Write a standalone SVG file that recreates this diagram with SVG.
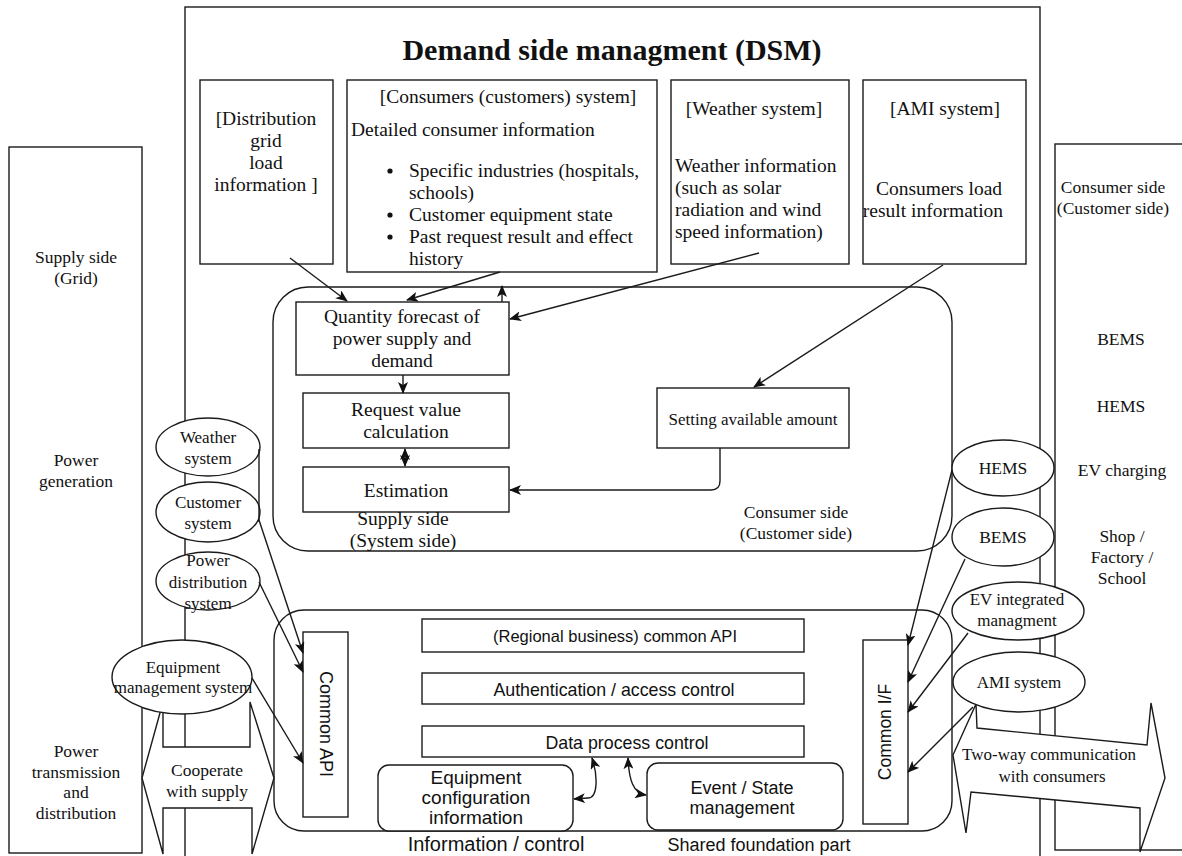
<svg xmlns="http://www.w3.org/2000/svg" width="1182" height="856" viewBox="0 0 1182 856">
<defs>
<style>
.box{fill:#fff;stroke:#1a1a1a;stroke-width:1.4}
.ln{fill:none;stroke:#1a1a1a;stroke-width:1.4}
.s{font-family:"Liberation Serif","Times New Roman",serif;fill:#111}
.a{font-family:"Liberation Sans",Arial,sans-serif;fill:#111}
.m{text-anchor:middle}
.f19{font-size:19.5px}
.f17{font-size:17.5px}
</style>
<marker id="ah" viewBox="0 0 12 10" refX="11" refY="5" markerWidth="12" markerHeight="10" markerUnits="userSpaceOnUse" orient="auto-start-reverse">
<path d="M0,0 L12,5 L0,10 L3,5 z" fill="#111"/>
</marker>
</defs>
<rect width="1182" height="856" fill="#fff"/>

<g id="dsm">
<rect class="box" x="185" y="7" width="855" height="900"/>
<text class="s m" x="612" y="60" font-size="30" font-weight="bold">Demand side managment (DSM)</text>
</g>

<g id="supply-side">
<rect class="box" x="9" y="147" width="133" height="706"/>
<text class="s m f17" x="76" y="263">Supply side</text>
<text class="s m f17" x="76" y="284">(Grid)</text>
<text class="s m f17" x="76" y="466">Power</text>
<text class="s m f17" x="76" y="487">generation</text>
<text class="s m f17" x="76" y="757">Power</text>
<text class="s m f17" x="76" y="778">transmission</text>
<text class="s m f17" x="76" y="798">and</text>
<text class="s m f17" x="76" y="819">distribution</text>
</g>

<g id="consumer-side">
<rect class="box" x="1055" y="144" width="140" height="706"/>
<text class="s m f17" x="1113" y="193">Consumer side</text>
<text class="s m f17" x="1113" y="214">(Customer side)</text>
<text class="s m f17" x="1121" y="345">BEMS</text>
<text class="s m f17" x="1121" y="412">HEMS</text>
<text class="s m f17" x="1122" y="476">EV charging</text>
<text class="s m f17" x="1122" y="542">Shop /</text>
<text class="s m f17" x="1122" y="563">Factory /</text>
<text class="s m f17" x="1122" y="584">School</text>
</g>

<g id="dist-grid">
<rect class="box" x="200" y="80" width="133" height="184"/>
<text class="s m f19" x="266" y="125">[Distribution</text>
<text class="s m f19" x="266" y="147">grid</text>
<text class="s m f19" x="266" y="169">load</text>
<text class="s m f19" x="266" y="191">information ]</text>
</g>

<g id="consumers-system">
<rect class="box" x="347" y="80" width="310" height="192"/>
<text class="s m f19" x="508" y="103">[Consumers (customers) system]</text>
<text class="s f19" x="351" y="136">Detailed consumer information</text>
<circle cx="390" cy="171" r="2.6" fill="#111"/>
<circle cx="390" cy="215" r="2.6" fill="#111"/>
<circle cx="390" cy="237" r="2.6" fill="#111"/>
<text class="s f19" x="409" y="177">Specific industries (hospitals,</text>
<text class="s f19" x="409" y="199">schools)</text>
<text class="s f19" x="409" y="221">Customer equipment state</text>
<text class="s f19" x="409" y="243">Past request result and effect</text>
<text class="s f19" x="409" y="265">history</text>
</g>

<g id="weather-system">
<rect class="box" x="671" y="80" width="178" height="184"/>
<text class="s m f19" x="754" y="115">[Weather system]</text>
<text class="s f19" x="675" y="172">Weather information</text>
<text class="s f19" x="675" y="194">(such as solar</text>
<text class="s f19" x="675" y="216">radiation and wind</text>
<text class="s f19" x="675" y="238">speed information)</text>
</g>

<g id="ami-system">
<rect class="box" x="863" y="80" width="163" height="184"/>
<text class="s m f19" x="945" y="115">[AMI system]</text>
<text class="s m f19" x="939" y="195">Consumers load</text>
<text class="s m f19" x="933" y="217">result information</text>
</g>

<g id="upper-container">
<rect class="box" x="273" y="287" width="679" height="264" rx="35"/>
<text class="s m f19" x="403" y="525">Supply side</text>
<text class="s m f19" x="403" y="547">(System side)</text>
<text class="s m f17" x="796" y="518">Consumer side</text>
<text class="s m f17" x="796" y="539">(Customer side)</text>
</g>

<g id="quantity-forecast">
<rect class="box" x="296" y="302" width="213" height="73"/>
<text class="s m f19" x="402" y="323">Quantity forecast of</text>
<text class="s m f19" x="402" y="345">power supply and</text>
<text class="s m f19" x="402" y="367">demand</text>
</g>

<g id="request-value">
<rect class="box" x="303" y="393" width="206" height="55"/>
<text class="s m f19" x="406" y="416">Request value</text>
<text class="s m f19" x="406" y="438">calculation</text>
</g>

<g id="estimation">
<rect class="box" x="303" y="467" width="206" height="45"/>
<text class="s m f19" x="406" y="497">Estimation</text>
</g>

<g id="setting-available">
<rect class="box" x="657" y="388" width="192" height="60"/>
<text class="s m" x="753" y="425" font-size="17">Setting available amount</text>
</g>

<g id="lower-container">
<rect class="box" x="274" y="610" width="678" height="221" rx="30"/>
<text class="a m" x="496" y="851" font-size="20">Information / control</text>
<text class="a m" x="759" y="851" font-size="18">Shared foundation part</text>
</g>

<g id="common-api">
<rect class="box" x="303" y="632" width="45" height="185"/>
<text class="a m" font-size="18" transform="translate(326,724) rotate(90)" dominant-baseline="central">Common API</text>
</g>

<g id="regional-api">
<rect class="box" x="422" y="619" width="382" height="33"/>
<text class="a m" x="615" y="642" font-size="16.5">(Regional business) common API</text>
</g>

<g id="auth">
<rect class="box" x="422" y="673" width="382" height="31"/>
<text class="a m" x="614" y="696" font-size="17.8">Authentication / access control</text>
</g>

<g id="data-process">
<rect class="box" x="422" y="726" width="382" height="31"/>
<text class="a m" x="627" y="749" font-size="17.8">Data process control</text>
</g>

<g id="equipment-config">
<rect class="box" x="378" y="765" width="195" height="66" rx="11"/>
<text class="a m" x="476" y="784" font-size="19">Equipment</text>
<text class="a m" x="476" y="804" font-size="19">configuration</text>
<text class="a m" x="476" y="824" font-size="19">information</text>
</g>

<g id="event-state">
<rect class="box" x="647" y="763" width="196" height="67" rx="11"/>
<text class="a m" x="742" y="794" font-size="18">Event / State</text>
<text class="a m" x="742" y="814" font-size="18">management</text>
</g>

<g id="common-if">
<rect class="box" x="863" y="640" width="45" height="184"/>
<text class="a m" font-size="17.5" transform="translate(885,732) rotate(-90)" dominant-baseline="central">Common I/F</text>
</g>

<g id="cooperate-arrow">
<polygon class="box" points="163,702 163,747 250,747 250,702 274,778 252,854 252,808 163,808 163,854 142,778"/>
<text class="s m f17" x="207" y="776">Cooperate</text>
<text class="s m f17" x="207" y="797">with supply</text>
</g>

<g id="two-way-arrow">
<polygon class="box" points="976,704 977,728 1147,745 1151,703 1165,778 1140,852 1140,808 971,792 966,833 953,755"/>
<text class="s m" x="1049" y="760" font-size="17">Two-way communication</text>
<text class="s m" x="1052" y="782" font-size="17">with consumers</text>
</g>

<g id="weather-ellipse">
<ellipse class="box" cx="208" cy="447" rx="52" ry="29"/>
<text class="s m" x="208" y="443" font-size="17">Weather</text>
<text class="s m" x="208" y="464" font-size="17">system</text>
</g>
<g id="customer-ellipse">
<ellipse class="box" cx="208" cy="512" rx="52" ry="30"/>
<text class="s m" x="208" y="508" font-size="17">Customer</text>
<text class="s m" x="208" y="529" font-size="17">system</text>
</g>
<g id="powerdist-ellipse">
<ellipse class="box" cx="208" cy="581" rx="52" ry="29"/>
<text class="s m" x="208" y="566" font-size="17">Power</text>
<text class="s m" x="208" y="588" font-size="17">distribution</text>
<text class="s m" x="208" y="609" font-size="17">system</text>
</g>
<g id="equipment-ellipse">
<ellipse class="box" cx="182" cy="677" rx="70" ry="37"/>
<text class="s m" x="183" y="673" font-size="17">Equipment</text>
<text class="s m" x="183" y="693" font-size="17">management system</text>
</g>

<g id="hems-ellipse">
<ellipse class="box" cx="1003" cy="468" rx="51" ry="28"/>
<text class="s m" x="1003" y="474" font-size="17.5">HEMS</text>
</g>
<g id="bems-ellipse">
<ellipse class="box" cx="1003" cy="537" rx="51" ry="29"/>
<text class="s m" x="1003" y="543" font-size="17.5">BEMS</text>
</g>
<g id="ev-ellipse">
<ellipse class="box" cx="1018" cy="611" rx="66" ry="29"/>
<text class="s m" x="1017" y="605" font-size="17">EV integrated</text>
<text class="s m" x="1017" y="626" font-size="17">managment</text>
</g>
<g id="ami-ellipse">
<ellipse class="box" cx="1019" cy="682" rx="66" ry="30"/>
<text class="s m" x="1019" y="688" font-size="17">AMI system</text>
</g>

<g id="connectors" class="ln">
<path d="M290,258 L347,301" marker-end="url(#ah)"/>
<path d="M500,272 L407,300" marker-end="url(#ah)"/>
<path d="M502,302 L502,286" marker-end="url(#ah)"/>
<path d="M759,253 L510,319" marker-end="url(#ah)"/>
<path d="M943,265 L754,387" marker-end="url(#ah)"/>
<path d="M403,375 L403,393" marker-end="url(#ah)"/>
<path d="M405,449 L405,466" marker-start="url(#ah)" marker-end="url(#ah)"/>
<path d="M720,448 L720,481 Q720,490 711,490 L510,490" marker-end="url(#ah)"/>
<path d="M259,449 L259,522"/>
<path d="M259,520 L303,653" marker-end="url(#ah)"/>
<path d="M259,582 L303,672" marker-end="url(#ah)"/>
<path d="M252,678 L303,763" marker-end="url(#ah)"/>
<path d="M952,470 L908,645" marker-end="url(#ah)"/>
<path d="M965,559 L908,682" marker-end="url(#ah)"/>
<path d="M968,633 L908,712" marker-end="url(#ah)"/>
<path d="M973,707 L908,772" marker-end="url(#ah)"/>
<path d="M592,758 C598,776 598,798 588,798 L574,799" marker-start="url(#ah)" marker-end="url(#ah)"/>
<path d="M628,758 C629,780 633,793 646,795" marker-start="url(#ah)" marker-end="url(#ah)"/>
</g>
</svg>
